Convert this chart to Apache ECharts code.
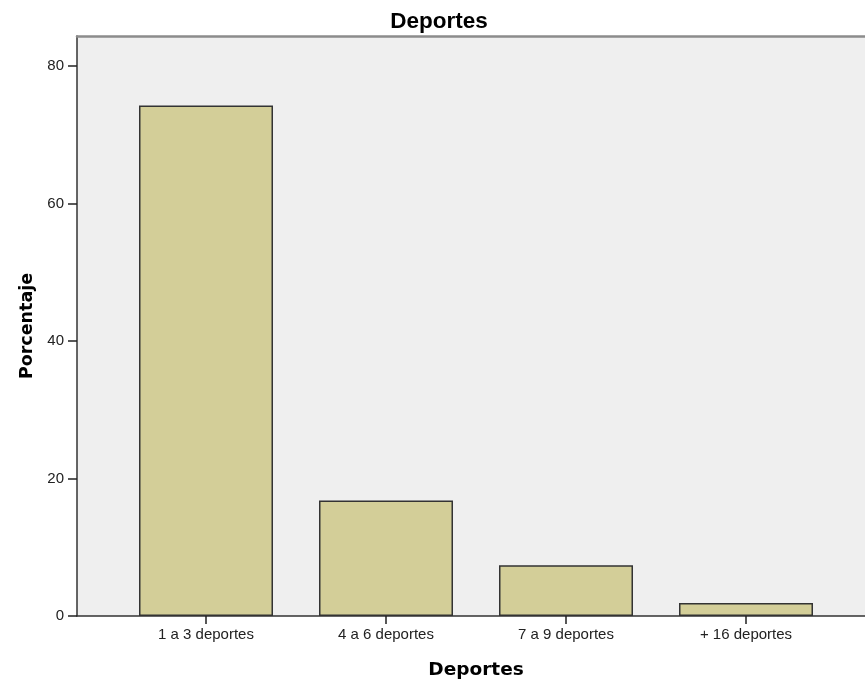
<!DOCTYPE html>
<html>
<head>
<meta charset="utf-8">
<script src="https://cdn.jsdelivr.net/npm/echarts@6/dist/echarts.min.js"></script>
<style>html,body{margin:0;padding:0;background:#fff;}#c{width:865px;height:683px;}</style>
</head>
<body>
<div id="c"></div>
<script>
const categories = ['1 a 3 deportes', '4 a 6 deportes', '7 a 9 deportes', '+ 16 deportes'];
const percentages = [74.3, 16.8, 7.4, 1.9];
const yTicks = [0, 20, 40, 60, 80];
const yMax = 84.4;

const chart = echarts.init(document.getElementById('c'), null, {renderer: 'canvas'});
const font = 'Liberation Sans, Arial, sans-serif';
const nameFont = 'DejaVu Sans, sans-serif';
chart.setOption({
  animation: false,
  title: {
    text: 'Deportes', left: 434, top: 5, textAlign: 'center',
    textStyle: {fontFamily: font, fontSize: 22.5, fontWeight: 'bold', color: '#000'}
  },
  grid: [
    {left: 77, top: 36, width: 798, height: 580, show: true, backgroundColor: '#efefef', borderWidth: 0, outerBoundsMode: 'none', containLabel: false},
    {left: 116, top: 36, width: 720, height: 580, outerBoundsMode: 'none', containLabel: false}
  ],
  xAxis: [
    {gridIndex: 0, type: 'value', min: 0, max: 1, position: 'bottom',
     axisLine: {show: true, onZero: false, lineStyle: {color: '#333', width: 1.5}},
     axisTick: {show: false}, axisLabel: {show: false}, splitLine: {show: false},
     name: 'Deportes', nameLocation: 'middle', nameGap: 45,
     nameTextStyle: {fontFamily: nameFont, fontSize: 18.5, fontWeight: 'bold', color: '#000'}},
    {gridIndex: 0, type: 'value', min: 0, max: 1, position: 'top',
     axisLine: {show: true, onZero: false, lineStyle: {color: '#8c8c8c', width: 2.5}},
     axisTick: {show: false}, axisLabel: {show: false}, splitLine: {show: false}},
    {gridIndex: 1, type: 'category', data: categories, boundaryGap: true,
     axisLine: {show: false},
     axisTick: {show: true, alignWithLabel: true, length: 8, lineStyle: {color: '#222', width: 1.5}},
     axisLabel: {fontFamily: font, fontSize: 15, color: '#222', margin: 11},
     splitLine: {show: false}}
  ],
  yAxis: [
    {gridIndex: 0, type: 'value', min: 0, max: yMax,
     axisLine: {show: true, lineStyle: {color: '#333', width: 1.5}},
     axisTick: {show: true, length: 9, customValues: yTicks, lineStyle: {color: '#222', width: 1.5}},
     axisLabel: {fontFamily: font, fontSize: 15, color: '#222', margin: 13, customValues: yTicks},
     splitLine: {show: false},
     name: 'Porcentaje', nameLocation: 'middle', nameGap: 40, nameRotate: 90,
     nameTextStyle: {fontFamily: nameFont, fontSize: 17.5, fontWeight: 'bold', color: '#000'}},
    {gridIndex: 1, type: 'value', min: 0, max: yMax, show: false}
  ],
  series: [{
    type: 'bar', xAxisIndex: 2, yAxisIndex: 1, data: percentages, barWidth: 134,
    itemStyle: {color: '#d3ce98', borderColor: '#333', borderWidth: 1.5}
  }]
});
</script>
</body>
</html>
